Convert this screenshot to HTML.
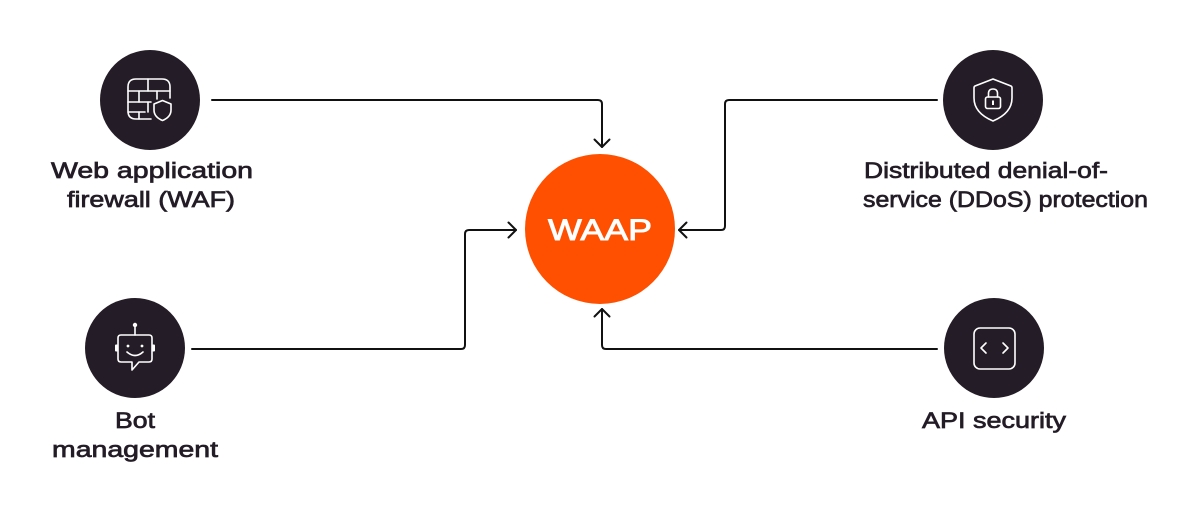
<!DOCTYPE html>
<html>
<head>
<meta charset="utf-8">
<style>
  html, body { margin: 0; padding: 0; background: #ffffff; }
  body { width: 1200px; height: 512px; overflow: hidden; }
  svg { display: block; }
  .lbl { font-family: "Liberation Sans", sans-serif; font-weight: 400; font-size: 22.5px; fill: #231c26; stroke: #231c26; stroke-width: 0.7px; }
</style>
</head>
<body>
<svg width="1200" height="512" viewBox="0 0 1200 512" xmlns="http://www.w3.org/2000/svg">
  <rect width="1200" height="512" fill="#ffffff"/>

  <!-- connectors -->
  <g fill="none" stroke="#111111" stroke-width="2" stroke-linecap="round" stroke-linejoin="round">
    <path d="M212,100 H598 Q602,100 602,104 V147"/>
    <path d="M594.5,139.5 L602,147 L609.5,139.5"/>

    <path d="M192,349 H461 Q465,349 465,345 V234 Q465,230 469,230 H516"/>
    <path d="M508.5,222.5 L516,230 L508.5,237.5"/>

    <path d="M937,100 H729 Q725,100 725,104 V226 Q725,230 721,230 H679"/>
    <path d="M686.5,222.5 L679,230 L686.5,237.5"/>

    <path d="M937,349 H606 Q602,349 602,345 V309"/>
    <path d="M594.5,316.5 L602,309 L609.5,316.5"/>
  </g>

  <!-- WAAP -->
  <circle cx="600" cy="229" r="75" fill="#fe5000"/>
  <text x="600" y="240" text-anchor="middle" font-family="Liberation Sans, sans-serif" font-weight="400" font-size="30" fill="#ffffff" stroke="#ffffff" stroke-width="0.9" textLength="104" lengthAdjust="spacingAndGlyphs">WAAP</text>

  <!-- node circles -->
  <circle cx="150" cy="100" r="50" fill="#241c27"/>
  <circle cx="135" cy="348" r="50" fill="#241c27"/>
  <circle cx="993" cy="100" r="50" fill="#241c27"/>
  <circle cx="994" cy="348" r="50" fill="#241c27"/>

  <!-- WAF icon -->
  <g fill="none" stroke="#ffffff" stroke-width="1.6" stroke-linecap="round" stroke-linejoin="round">
    <path d="M151,119 H136 Q128,119 128,111 V87 Q128,79 136,79 H162 Q170,79 170,87 V98"/>
    <path d="M128,91 H170"/>
    <path d="M128,102 H151"/>
    <path d="M128,112 H145"/>
    <path d="M148,79 V91"/>
    <path d="M139,91 V102"/>
    <path d="M157,91 V99"/>
    <path d="M148,102 V112"/>
    <path d="M139,112 V119"/>
    <path d="M162.5,100.5 L171,104 V110 Q171,117 162.5,120.5 Q154,117 154,110 V104 Z"/>
  </g>

  <!-- Bot icon -->
  <g fill="none" stroke="#ffffff" stroke-width="1.6" stroke-linecap="round" stroke-linejoin="round">
    <path d="M135,327 V335"/>
    <path d="M132,362 H121 Q118,362 118,359 V338 Q118,335 121,335 H149 Q152,335 152,338 V359 Q152,362 149,362 H139 L132,370 Z"/>
    <path d="M127,352 Q135,359 143,352"/>
  </g>
  <g fill="#ffffff">
    <circle cx="135" cy="325" r="2.2"/>
    <rect x="115" y="344.5" width="3" height="7" rx="1"/>
    <rect x="152" y="344.5" width="3" height="7" rx="1"/>
    <circle cx="128" cy="346" r="1.4"/>
    <circle cx="142" cy="346" r="1.4"/>
  </g>

  <!-- DDoS icon -->
  <g fill="none" stroke="#ffffff" stroke-width="1.6" stroke-linecap="round" stroke-linejoin="round">
    <path d="M993,79 L1011,86 Q1012,86.5 1012,88 V98 Q1012,113 993,121 Q974,113 974,98 V88 Q974,86.5 975,86 Z"/>
    <rect x="985.5" y="97" width="15" height="11.5" rx="2"/>
    <path d="M988.5,97 V93.5 Q988.5,89 993,89 Q997.5,89 997.5,93.5 V97"/>
  </g>
  <rect x="992" y="100.5" width="2" height="4.5" fill="#ffffff"/>

  <!-- API icon -->
  <g fill="none" stroke="#ffffff" stroke-width="1.6" stroke-linecap="round" stroke-linejoin="round">
    <rect x="974" y="328" width="41" height="41" rx="6"/>
    <path d="M986,343 L981,348 L986,353"/>
    <path d="M1003,343 L1008,348 L1003,353"/>
  </g>

  <!-- labels -->
  <text class="lbl" x="51" y="178" textLength="202" lengthAdjust="spacingAndGlyphs">Web application</text>
  <text class="lbl" x="67" y="207" textLength="168" lengthAdjust="spacingAndGlyphs">firewall (WAF)</text>

  <text class="lbl" x="864" y="178" textLength="244" lengthAdjust="spacingAndGlyphs">Distributed denial-of-</text>
  <text class="lbl" x="863" y="207" textLength="285" lengthAdjust="spacingAndGlyphs">service (DDoS) protection</text>

  <text class="lbl" x="115" y="428" textLength="40" lengthAdjust="spacingAndGlyphs">Bot</text>
  <text class="lbl" x="52" y="457" textLength="166" lengthAdjust="spacingAndGlyphs">management</text>

  <text class="lbl" x="922" y="428" textLength="144" lengthAdjust="spacingAndGlyphs">API security</text>
</svg>
</body>
</html>
